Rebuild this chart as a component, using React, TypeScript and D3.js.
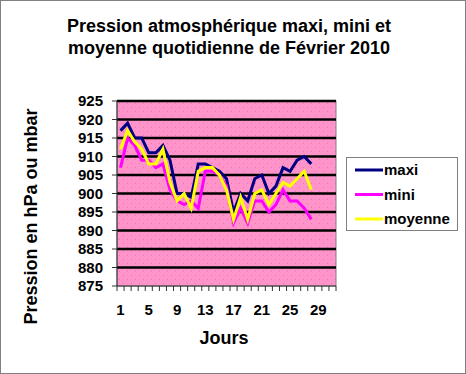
import React from "react";
import * as d3 from "d3";

const days = d3.range(1, 32);
const maxi = [917, 919, 915, 915, 911, 911, 913, 909, 900, 900, 899, 908, 908, 907, 906, 904, 895, 900, 898, 904, 905, 900, 902, 907, 906, 909, 910, 908];
const mini = [907, 915, 913, 909, 909, 907, 908, 901, 898, 897, 898, 896, 906, 906, 905, 902, 892, 896, 892, 898, 898, 895, 897, 901, 898, 898, 896, 893];
const moyenne = [912, 917, 914, 912, 908, 908, 912, 903, 898, 900, 896, 906, 907, 907, 905, 901, 893, 899, 893, 900, 901, 897, 900, 903, 902, 904, 906, 901];
const yTicks = [875, 880, 885, 890, 895, 900, 905, 910, 915, 920, 925];
const xLabels = [1, 5, 9, 13, 17, 21, 25, 29];
const seriesNames = ["maxi", "mini", "moyenne"];
const seriesColors = ["#000080", "#FF00FF", "#FFFF00"];

const W = 466, H = 374;
const plot = { left: 117, right: 336, top: 101, bottom: 286 };
const FONT = "'Liberation Sans', Arial, sans-serif";

export default function App() {
  const x = d3.scaleBand<number>().domain(days).range([plot.left, plot.right]);
  const y = d3.scaleLinear().domain([875, 925]).range([plot.bottom, plot.top]);
  const cx = (d: number) => (x(d) as number) + x.bandwidth() / 2;
  const line = (vals: number[]) =>
    d3.line<number>().x((_, i) => cx(i + 1)).y((v) => y(v))(vals) as string;
  const series = [maxi, mini, moyenne];
  const boundaries = d3.range(0, days.length + 1).map((i) => plot.left + i * x.bandwidth());

  return (
    <svg width={W} height={H} style={{ position: "absolute", left: 0, top: 0 }} fontFamily={FONT}>
      <defs>
        <pattern id="dots" width="8" height="8" patternUnits="userSpaceOnUse" x={plot.left} y={plot.top}>
          <rect width="8" height="8" fill="#FF94CA" />
          <rect x="2" y="2" width="1" height="1" fill="#F070B4" />
          <rect x="6" y="6" width="1" height="1" fill="#F070B4" />
        </pattern>
      </defs>
      <rect x={0.5} y={0.5} width={W - 1} height={H - 1} fill="#fff" stroke="#000" strokeDasharray="1,1" />
      <text x={229} y={32} textAnchor="middle" fontSize={18} fontWeight="bold">Pression atmosphérique maxi, mini et</text>
      <text x={229} y={54} textAnchor="middle" fontSize={18} fontWeight="bold">moyenne quotidienne de Février 2010</text>

      <rect x={plot.left} y={plot.top} width={plot.right - plot.left} height={plot.bottom - plot.top} fill="url(#dots)" stroke="#808080" />
      {yTicks.filter((t) => t > 875).map((t) => (
        <line key={t} x1={plot.left} x2={plot.right} y1={y(t)} y2={y(t)} stroke="#000" strokeWidth={2.5} />
      ))}
      <line x1={plot.left} x2={plot.left} y1={plot.top} y2={plot.bottom} stroke="#333" />
      <line x1={plot.left} x2={plot.right} y1={plot.bottom} y2={plot.bottom} stroke="#333" />
      {yTicks.map((t) => (
        <g key={t}>
          <line x1={plot.left - 5} x2={plot.left} y1={y(t)} y2={y(t)} stroke="#333" />
          <text x={103} y={y(t)} dy="0.36em" textAnchor="end" fontSize={15} fontWeight="bold">{t}</text>
        </g>
      ))}
      {boundaries.map((b, i) => (
        <line key={i} x1={b} x2={b} y1={plot.bottom} y2={plot.bottom + 5} stroke="#333" />
      ))}
      {xLabels.map((d) => (
        <text key={d} x={cx(d)} y={315} textAnchor="middle" fontSize={15} fontWeight="bold">{d}</text>
      ))}

      {series.map((s, i) => (
        <path key={i} d={line(s)} fill="none" stroke={seriesColors[i]} strokeWidth={3} strokeLinejoin="miter" />
      ))}

      <text transform="translate(36.5,216.5) rotate(-90)" textAnchor="middle" fontSize={18} fontWeight="bold">Pression en hPa ou mbar</text>
      <text x={224} y={344} textAnchor="middle" fontSize={18} fontWeight="bold">Jours</text>

      <rect x={346.5} y={157.5} width={111} height={73} fill="#fff" stroke="#808080" />
      {seriesNames.map((n, i) => {
        const ly = 170 + i * 24.5;
        return (
          <g key={n}>
            <line x1={355} x2={383} y1={ly} y2={ly} stroke={seriesColors[i]} strokeWidth={3} />
            <text x={384} y={ly} dy="0.36em" fontSize={15} fontWeight="bold">{n}</text>
          </g>
        );
      })}
    </svg>
  );
}
